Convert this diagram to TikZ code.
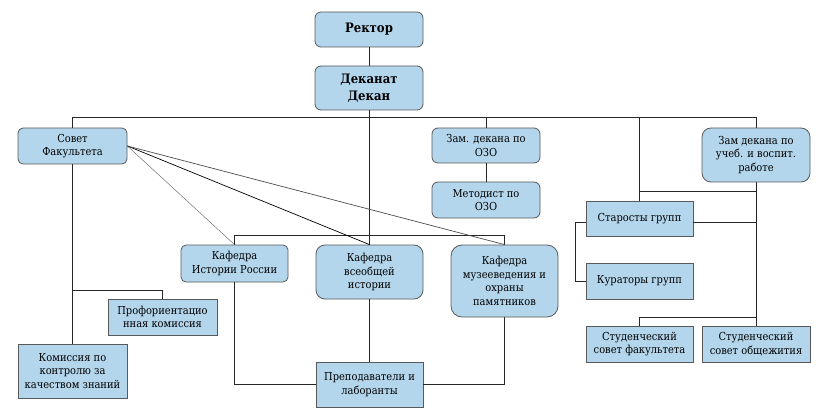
\documentclass[tikz,border=0pt]{standalone}
\usepackage{fontspec}
\newfontfamily\timesf{DejaVu Serif Condensed}
\definecolor{boxblue}{RGB}{180,214,236}
\begin{document}
\begin{tikzpicture}[x=1pt,y=-1pt,
  box/.style={draw=black!65, line width=0.8pt, fill=boxblue, align=center, inner sep=1pt,
    font=\timesf\fontsize{11}{13.5}\selectfont},
  rbox/.style={box, rounded corners=6pt},
  bigbox/.style={box, rounded corners=9pt},
  link/.style={draw=black!85, line width=1pt},
  thinlink/.style={draw=black!55, line width=0.5pt},
  diag/.style={draw=black, line width=0.7pt},
  ]
\useasboundingbox (0,0) rectangle (821,414);

% nodes
\node[rbox, minimum width=108pt, minimum height=35pt, font=\timesf\fontsize{13}{17}\selectfont\bfseries] (rector) at (369,29.5) {Ректор};
\node[rbox, minimum width=108pt, minimum height=44pt, font=\timesf\fontsize{13}{17}\selectfont\bfseries] (dekanat) at (369,88) {Деканат\\Декан};
\node[rbox, rounded corners=5pt, minimum width=109pt, minimum height=36pt] (sovet) at (72.5,146) {Совет\\Факультета};
\node[rbox, minimum width=108pt, minimum height=35pt] (zamozo) at (486,145.5) {Зам. декана по\\ОЗО};
\node[rbox, minimum width=108pt, minimum height=36pt] (metod) at (486,200) {Методист по\\ОЗО};
\node[bigbox, minimum width=108pt, minimum height=54pt] (zamuch) at (756,155) {Зам декана по\\учеб. и воспит.\\работе};
\node[box, minimum width=107pt, minimum height=35pt] (star) at (639.5,218.5) {Старосты групп};
\node[box, minimum width=107pt, minimum height=36pt] (kur) at (639.5,281) {Кураторы групп};
\node[box, minimum width=107pt, minimum height=36pt] (studfak) at (639.5,344) {Студенческий\\совет факультета};
\node[box, minimum width=108pt, minimum height=36pt] (studob) at (756,344) {Студенческий\\совет общежития};
\node[rbox, rounded corners=5pt, minimum width=107pt, minimum height=37pt] (kafros) at (234.5,263.5) {Кафедра\\Истории России};
\node[bigbox, minimum width=107pt, minimum height=54pt] (kafvs) at (369.5,272) {Кафедра\\всеобщей\\истории};
\node[bigbox, rounded corners=11pt, minimum width=107pt, minimum height=72pt] (kafmuz) at (504.5,281) {Кафедра\\музееведения и\\охраны\\памятников};
\node[box, minimum width=107pt, minimum height=45pt] (prep) at (369.5,384.5) {Преподаватели и\\лаборанты};
\node[box, minimum width=109pt, minimum height=36pt] (prof) at (162.5,317) {Профориентацио\\нная комиссия};
\node[box, minimum width=109pt, minimum height=54pt] (kom) at (72.5,371) {Комиссия по\\контролю за\\качеством знаний};

% helper levels
\coordinate (bus) at (0,118);
\coordinate (rb) at (0,191);
\coordinate (sb) at (0,317);
\coordinate (pb) at (0,290);
\coordinate (kb) at (0,235);

% connectors
\draw[link] (rector) -- (dekanat);
\draw[link] (dekanat.south) -- (dekanat.south |- kafvs.north);
\draw[link] (sovet.north) |- (bus -| zamuch.north) -- (zamuch.north);
\draw[link] (bus -| zamozo.north) -- (zamozo.north);
\draw[link] (zamozo) -- (metod);
\draw[link] (bus -| star.north) -- (star.north);
\draw[link] (rb -| star.north) -- (rb -| zamuch.south);
\draw[link] (zamuch.south) -- (studob.north);
\draw[link] (sb -| studob.north) -| (studfak.north);
\draw[link] ([yshift=-3.5pt]star.east) -- ([yshift=-3.5pt]star.east -| zamuch.south);
\draw[link] ([yshift=-3.5pt]star.west) -- ++(-10,0) |- (kur.west);
\draw[link] (sovet.south) -- (kom.north);
\draw[link] (pb -| sovet.south) -| (prof.north);
\draw[link] (kafros.north) |- (kb -| kafmuz.north) -- (kafmuz.north);
\draw[link] (kafros.south) |- (prep.west);
\draw[link] (kafmuz.south) |- (prep.east);
\draw[link] (kafvs.south) -- (prep.north);

% diagonal links from the council
\draw[thinlink] (sovet.east) -- (kafros.north);
\draw[diag] (sovet.east) -- (kafvs.north);
\draw[diag, draw=black!70] (sovet.east) -- (kafmuz.north);
\end{tikzpicture}
\end{document}
